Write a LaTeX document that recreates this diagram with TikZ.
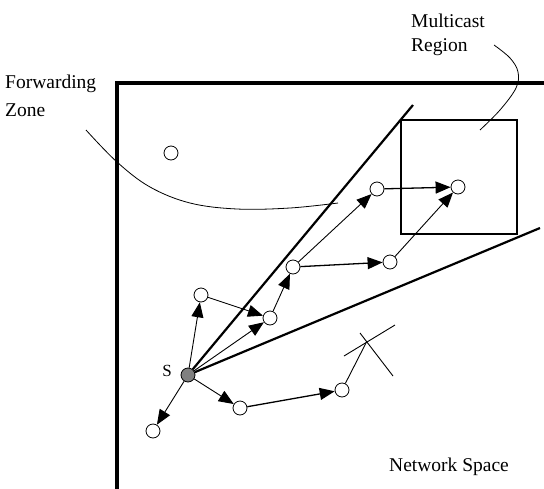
\documentclass[tikz,border=0pt]{standalone}
\usepackage{fontspec}
\setmainfont{Liberation Serif}
\usetikzlibrary{arrows.meta}
\begin{document}
\begin{tikzpicture}[x=1pt,y=-1pt,
  host/.style={circle,draw,fill=white,line width=0.8pt,minimum size=14pt,inner sep=0pt},
  src/.style={circle,draw,fill=gray,line width=0.8pt,minimum size=14pt,inner sep=0pt},
  tip/.style={-{Triangle[length=15pt,width=12pt]}},
  link/.style={line width=0.9pt,tip},
  hlink/.style={line width=1.3pt,tip},
  bound/.style={line width=2.2pt},
  lbl/.style={anchor=base west,inner sep=0pt,font=\fontsize{19.5}{28}\selectfont},
  lead/.style={line width=0.8pt}]
\useasboundingbox (0,0) rectangle (544,488);
% frame of the network space
\draw[line width=3.5pt] (117,492) -- (117,83) -- (548,83);
% labels
\node[lbl] (fz1) at (5,88) {Forwarding};
\node[lbl] (fz2) at (5,116) {Zone};
\node[lbl] (mr1) at (411,27) {Multicast};
\node[lbl] (mr2) at (411,51) {Region};
\node[lbl] (ns) at (389,471) {Network Space};
% leader curves
\coordinate (fzs) at (86,130);
\coordinate (fze) at (338,203);
\draw[lead] plot[smooth,tension=0.6] coordinates {(fzs) (117,162) (150,187) (190,203) (237,209) (290,208) (fze)};
\coordinate (mrs) at (494,45);
\coordinate (mre) at (480,130);
\draw[lead] plot[smooth,tension=0.6] coordinates {(mrs) (510,58) (518,72) (516,88) (500,110) (mre)};
% multicast region box
\draw[line width=1.3pt] (401,120) rectangle (517,234);
% source
\node[src] (S) at (188,375) {};
\node[anchor=base,inner sep=0pt,font=\fontsize{17}{20}\selectfont] (Slbl) at (167,376) {S};
% zone boundaries
\coordinate (bu) at (413,105);
\coordinate (bl) at (540,228);
\draw[bound] (S) -- (bu);
\draw[bound] (S) -- (bl);
% hosts
\node[host] (T) at (171,153) {};
\node[host] (A) at (201,295) {};
\node[host] (B) at (270,318) {};
\node[host] (C) at (293,267) {};
\node[host] (D) at (377,189) {};
\node[host] (E) at (390,262) {};
\node[host] (F) at (458,187) {};
\node[host] (G) at (240,408) {};
\node[host] (H) at (342,390) {};
\node[host] (I) at (153,431) {};
% links
\draw[link] (S) -- (A);
\draw[link] (A) -- (B);
\draw[link] (S) -- (B);
\draw[link] (B) -- (C);
\draw[link] (C) -- (D);
\draw[hlink] (C) -- (E);
\draw[hlink] (D) -- (F);
\draw[link] (E) -- (F);
\draw[link] (S) -- (G);
\draw[hlink] (G) -- (H);
\draw[link] (S) -- (I);
% blocked path
\coordinate (X) at (367,341);
\coordinate (x1) at (344,356);
\coordinate (x2) at (395,325);
\coordinate (x3) at (360,333);
\coordinate (x4) at (393,376);
\draw[line width=0.9pt] (H) -- (X);
\draw[line width=0.9pt] (x1) -- (x2);
\draw[line width=0.9pt] (x3) -- (x4);
\end{tikzpicture}
\end{document}
